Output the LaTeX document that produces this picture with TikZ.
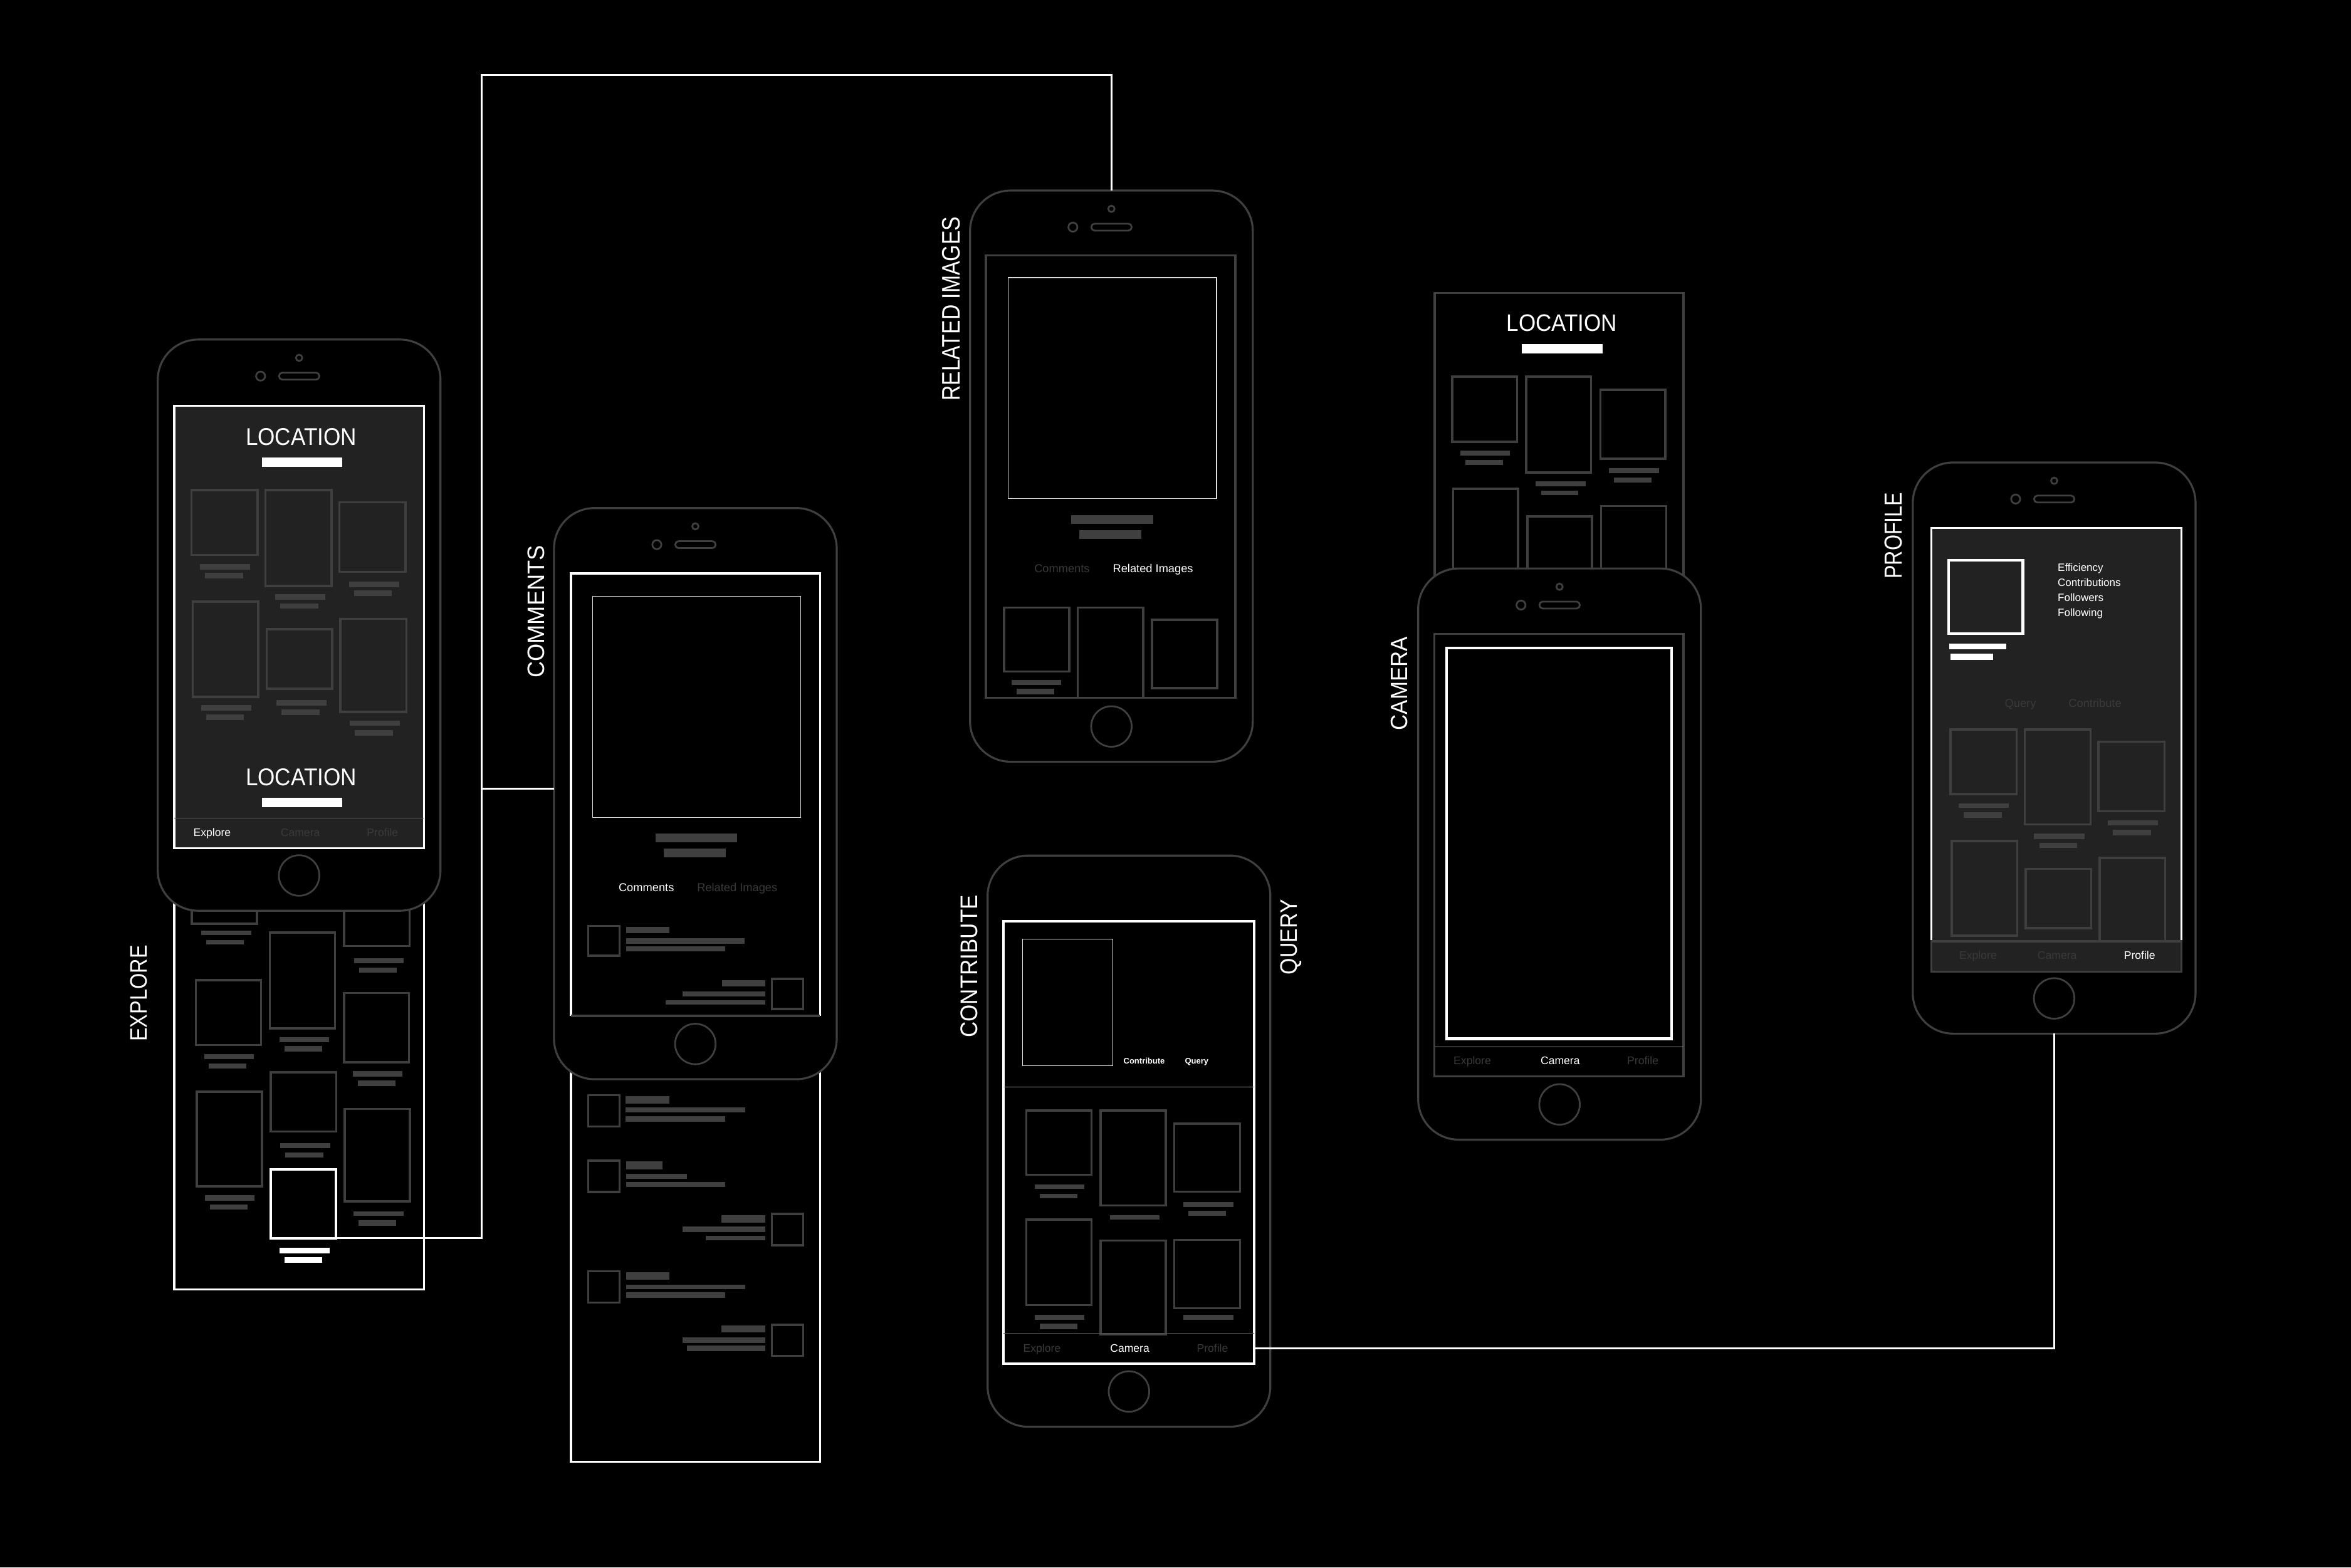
\documentclass[tikz,border=0pt]{standalone}
\usepackage{fontspec}
\setmainfont{Liberation Sans}
\usepackage{graphicx}
\definecolor{pg}{HTML}{3F3F3F}
\definecolor{tg}{HTML}{3A3A3A}
\definecolor{scr}{HTML}{222222}
\definecolor{ln}{HTML}{555555}
\definecolor{thinw}{HTML}{DDDDDD}
\newlength\ov \setlength\ov{0.2392mm}
\newcommand\fs[1]{\fontsize{#1}{#1}\selectfont}
\tikzset{
 phonebody/.style={draw=pg, line width=0.9pt, fill=black, rounded corners=27\ov, minimum width=188.6\ov, minimum height=381\ov, inner sep=0pt, outer sep=0pt},
 pline/.style={draw=pg, line width=0.8pt},
 gbox/.style={draw=pg, line width=1pt},
 gbar/.style={fill=pg},
 wline/.style={draw=white, line width=0.95pt},
 wthin/.style={draw=thinw, line width=0.35pt},
 sepl/.style={draw=ln, line width=0.35pt},
 conn/.style={draw=white, line width=0.8pt},
 txt/.style={inner sep=0pt, anchor=base, text=white},
 off/.style={text=tg},
 lab/.style={inner sep=0pt, rotate=90, text=white},
 wbox/.style={draw=white, line width=1.2pt, inner sep=0pt, outer sep=0pt},
}
\newcommand\gbx[4]{\draw[gbox] (#1,#2) rectangle (#3,#4);}
\newcommand\gbr[4]{\fill[gbar] (#1,#2) rectangle (#3,#4);}
\newcommand\wbr[4]{\fill[white] (#1,#2) rectangle (#3,#4);}
\newcommand\myphone[4]{%
  \node[phonebody] (#1) at ({#2+94.3},{#3+190.5}) {};
  \draw[pline] ({#2+94.3},{#3+357.5}) circle[radius=13.5];
  \ifnum#4=1\relax
   \draw[pline] ({#2+94.3},{#3+12.2}) circle[radius=2.1];
   \draw[pline] ({#2+68.6},{#3+24.4}) circle[radius=3.0];
   \draw[pline, rounded corners=2.2\ov] ({#2+80.9},{#3+22.1}) rectangle ({#2+107.8},{#3+26.7});
  \fi}
\begin{document}
\begin{tikzpicture}[x=0.2392mm, y=-0.2392mm]
\fill[black] (0,0) rectangle (1568.1,1045.6);
\useasboundingbox (0,0) rectangle (1568.1,1045.6);

% ================= EXPLORE =================
\draw[wline] (116.2,560) rectangle (282.7,860);
\gbx{128}{595}{171.5}{616.1}   \gbr{134.4}{621}{167.5}{623.9} \gbr{137.7}{627.2}{162.7}{630.1}
\gbx{179.9}{622.1}{223.5}{685.9} \gbr{186.5}{691.7}{219.5}{695} \gbr{189.8}{697.9}{214.8}{701.3}
\gbx{229.5}{595}{273.1}{631}   \gbr{236.2}{639}{269.3}{642.6} \gbr{239.5}{645.3}{264.6}{648.6}
\gbx{130.6}{653.8}{174.2}{697.1} \gbr{136.2}{703.1}{169.3}{706.4} \gbr{139.4}{709.3}{164.5}{712.7}
\gbx{229.5}{662.3}{272.8}{708.6} \gbr{235.3}{714.5}{268.4}{718} \gbr{238.7}{720.7}{263.8}{724.4}
\gbx{180.7}{715.3}{224.2}{754.8} \gbr{186.9}{762.6}{220.2}{766} \gbr{190.2}{768.8}{215.6}{772.2}
\gbx{131.2}{728.2}{174.7}{791.4} \gbr{136.8}{797.4}{169.9}{800.8} \gbr{140}{803.6}{165.1}{806.8}
\gbx{229.9}{739.8}{273.5}{801.4} \gbr{235.9}{807.9}{269.2}{811.2} \gbr{239.2}{814.1}{264.4}{817.5}
\node[wbox, minimum width=43.5\ov, minimum height=45.8\ov] (sel) at (202.45,803.1) {};
\wbr{186.6}{832.2}{219.9}{836.2} \wbr{189.8}{838.4}{215}{842.2}

\myphone{ephone}{105.2}{226.5}{1}
\draw[wline, fill=scr] (116.2,270.6) rectangle (282.7,565.7);
\draw[sepl] (116.2,545.8) -- (282.7,545.8);
\node[inner sep=0pt, text=white] (eloc1) at (200.9,291.45) {\resizebox{74\ov}{11.3\ov}{LOCATION}};
\wbr{174.7}{305.2}{228.3}{311.3}
\gbx{127.8}{327}{171.8}{370.2} \gbr{133.4}{376.1}{166.9}{379.8} \gbr{136.7}{382.2}{162.1}{385.9}
\gbx{177.1}{327}{221.2}{390.8} \gbr{183.5}{396.2}{217.1}{400.1} \gbr{187}{402.6}{212.2}{406}
\gbx{226.4}{335.1}{270.5}{381.5} \gbr{232.7}{387.9}{266.2}{391.6} \gbr{236}{393.8}{261.3}{397.7}
\gbx{128.6}{401.3}{172.2}{464.9} \gbr{134.1}{470.5}{167.5}{474.2} \gbr{137.4}{476.7}{162.8}{480.4}
\gbx{177.8}{419.7}{221.6}{459.5} \gbr{184.4}{466.8}{217.7}{470.7} \gbr{187.7}{473.3}{213.1}{476.9}
\gbx{227.1}{412.9}{271}{474.9} \gbr{233.3}{480.8}{266.7}{484.3} \gbr{236.6}{487}{262.1}{490.6}
\node[inner sep=0pt, text=white] (eloc2) at (200.9,518.35) {\resizebox{74\ov}{11.3\ov}{LOCATION}};
\wbr{174.7}{532.1}{228.3}{538.5}
\node[txt, font=\fs{5}] (et1) at (141.45,557.9) {Explore};
\node[txt, off, font=\fs{5}] (et2) at (200.3,557.9) {Camera};
\node[txt, off, font=\fs{5}] (et3) at (255.15,557.9) {Profile};

% ================= COMMENTS =================
\draw[wline] (380.8,382.5) rectangle (546.9,975);
\gbx{392.4}{730.6}{413.2}{751.4} \gbr{417.4}{731.2}{446.5}{736} \gbr{417.4}{738.8}{496.9}{742.1} \gbr{417.4}{744.5}{483.7}{748.1}
\gbx{392.4}{774.3}{413.2}{795.1} \gbr{417.6}{774.8}{441.9}{779.9} \gbr{417.6}{782.8}{458.2}{786.4} \gbr{417.6}{788.3}{483.7}{791.8}
\gbx{514.9}{809.8}{535.8}{830.6} \gbr{481.3}{810.5}{510.5}{815.4} \gbr{455.1}{818.1}{510.5}{821.8} \gbr{470.7}{824.2}{510.5}{827.5}
\gbx{392.4}{848.1}{413.2}{868.9} \gbr{417.6}{848.8}{446.5}{853.5} \gbr{417.6}{856.8}{497.1}{860.1} \gbr{417.6}{862}{483.7}{865.6}
\gbx{514.9}{883.7}{535.8}{904.5} \gbr{481.3}{884.2}{510.5}{888.9} \gbr{455.1}{892.3}{510.5}{895.8} \gbr{458.2}{897.5}{510.5}{901.2}

\myphone{cphone}{369.5}{338.9}{1}
\fill[black] (380.8,382.5) rectangle (546.9,677.7);
\draw[wline] (380.8,677.7) -- (380.8,382.5) -- (546.9,382.5) -- (546.9,677.7);
\draw[gbox] (380.8,677.7) -- (546.9,677.7);
\draw[wthin] (395.2,397.8) rectangle (534.1,545.2);
\gbr{437.3}{555.9}{491.7}{561.7} \gbr{442.7}{566}{483.9}{571.7}
\node[txt, font=\fs{5.2}] (ct1) at (431.1,594.6) {Comments};
\node[txt, off, font=\fs{5.2}] (ct2) at (491.75,594.6) {Related Images};
\gbx{392.4}{617.6}{413.2}{637.6} \gbr{417.5}{618.3}{446.3}{622.6} \gbr{417.5}{625.8}{496.8}{629.4} \gbr{417.5}{631.4}{483.5}{634.6}
\gbx{514.9}{652.9}{535.8}{673} \gbr{481.4}{653.7}{510.3}{657.9} \gbr{455.1}{661.2}{510.3}{664.7} \gbr{444.1}{667}{510.3}{670.2}

% ================= RELATED IMAGES =================
\myphone{rphone}{647}{127.1}{1}
\draw[gbox] (657.6,170.4) rectangle (824,465.4);
\draw[wthin] (672.4,185.2) rectangle (811.4,332.6);
\gbr{714.5}{343.6}{769}{349.4} \gbr{720}{353.6}{761.3}{359.4}
\node[txt, off, font=\fs{5.2}] (rt1) at (708.35,381.75) {Comments};
\node[txt, font=\fs{5.2}] (rt2) at (769.05,381.75) {Related Images};
\gbx{669.6}{405.2}{713.2}{447.9} \gbr{674.8}{453.6}{707.7}{457.1} \gbr{678.2}{459.6}{703.1}{463.1}
\gbx{718.8}{405.2}{762.6}{465.4}
\gbx{768.3}{413.5}{811.9}{459.1}

% ================= CONTRIBUTE =================
\myphone{kphone}{658.7}{570.7}{0}
\node[draw=white, line width=0.95pt, inner sep=0pt, outer sep=0pt, minimum width=167.2\ov, minimum height=295.2\ov] (cscreen) at (752.9,762.1) {};
\draw[sepl, draw=thinw!70!black] (669.3,725) -- (836.5,725);
\draw[wthin] (682.1,626.5) rectangle (742.3,711);
\node[txt, font=\bfseries\fs{3.7}] (kt1) at (763.15,709.5) {Contribute};
\node[txt, font=\bfseries\fs{3.7}] (kt2) at (798.2,709.5) {Query};
\gbx{684.5}{740.8}{728.1}{783.7} \gbr{690.1}{789.9}{723.2}{793.2} \gbr{693.4}{796.2}{718.5}{799.5}
\gbx{734}{740.8}{777.6}{804.2} \gbr{740.2}{810.5}{773.5}{813.5}
\gbx{783.2}{749.6}{827.1}{795} \gbr{789.2}{801.7}{822.6}{805} \gbr{792.5}{807.7}{817.9}{811}
\gbx{684.5}{813.5}{728.1}{870.6} \gbr{690.1}{876.9}{723.2}{880.6} \gbr{693.4}{882.9}{718.5}{886.7}
\gbx{734}{827.5}{777.6}{890.2}
\gbx{783.2}{827}{827.1}{872.6} \gbr{789.2}{876.9}{822.6}{880.2}
\draw[sepl] (669.3,889.4) -- (836.5,889.4);
\node[txt, off, font=\fs{5}] (kt3) at (695,902) {Explore};
\node[txt, font=\fs{5}] (kt4) at (753.55,902) {Camera};
\node[txt, off, font=\fs{5}] (kt5) at (808.7,902) {Profile};

% ================= CAMERA =================
\draw[gbox] (957,440) -- (957,195.4) -- (1122.9,195.4) -- (1122.9,440);
\node[inner sep=0pt, text=white] (mloc) at (1041.7,215.55) {\resizebox{73.8\ov}{11.1\ov}{LOCATION}};
\wbr{1015.2}{229.5}{1068.9}{235.8}
\gbx{968.7}{251.2}{1011.9}{294.7} \gbr{974.1}{300.7}{1007.2}{303.8} \gbr{977.3}{306.8}{1002.5}{310.2}
\gbx{1018}{251.2}{1061.2}{315.2} \gbr{1024.3}{321.2}{1057.5}{324.4} \gbr{1027.8}{327.2}{1052.6}{330.4}
\gbx{1067.4}{260}{1110.7}{306.1} \gbr{1073.2}{312.4}{1106.4}{315.6} \gbr{1076.5}{318.4}{1101.5}{321.9}
\gbx{969.2}{326.1}{1012.5}{440}
\gbx{1018.7}{344.5}{1061.9}{440}
\gbx{1067.9}{337.5}{1111.3}{440}
\myphone{mphone}{945.9}{379.2}{1}
\draw[gbox] (956.7,422.9) rectangle (1122.9,718);
\draw[draw=white, line width=1.15pt] (965,432.1) rectangle (1114.8,692.9);
\draw[sepl, draw=thinw!60!black] (956.7,698.2) -- (1122.9,698.2);
\node[txt, off, font=\fs{5}] (mt1) at (982,710.25) {Explore};
\node[txt, font=\fs{5}] (mt2) at (1040.65,710.25) {Camera};
\node[txt, off, font=\fs{5}] (mt3) at (1095.75,710.25) {Profile};

% ================= PROFILE =================
\myphone{pphone}{1275.8}{308.5}{1}
\fill[scr] (1288.2,352.3) rectangle (1454.9,648.1);
\gbx{1301}{486.5}{1345}{529.7} \gbr{1306.5}{535.8}{1340}{539} \gbr{1309.9}{541.9}{1335.2}{545.4}
\gbx{1350.4}{486.5}{1394.3}{550} \gbr{1356.7}{556.1}{1390.5}{559.6} \gbr{1360.3}{562.3}{1385.5}{565.7}
\gbx{1399.7}{494.8}{1443.7}{541.2} \gbr{1405.9}{547.3}{1439.3}{550.7} \gbr{1409.2}{553.4}{1434.6}{557.1}
\gbx{1301.7}{561.1}{1345.5}{624.1}
\gbx{1351.1}{579.7}{1394.8}{619.2}
\gbx{1400.5}{572.3}{1444.2}{628}
\draw[wline] (1288.2,628) -- (1288.2,352.3) -- (1454.9,352.3) -- (1454.9,628);
\draw[gbox, fill=scr] (1288.2,628) rectangle (1454.9,648.1);
\draw[wbox] (1299.7,373.6) rectangle (1349.2,422.5);
\wbr{1300}{429.3}{1338}{433.2} \wbr{1300.8}{436.2}{1329.5}{440.1}
\node[txt, anchor=base west, font=\fs{4.85}] (ps1) at (1372.2,380.85) {Efficiency};
\node[txt, anchor=base west, font=\fs{4.85}] (ps2) at (1372.2,391.15) {Contributions};
\node[txt, anchor=base west, font=\fs{4.85}] (ps3) at (1372.2,401.25) {Followers};
\node[txt, anchor=base west, font=\fs{4.85}] (ps4) at (1372.2,411.25) {Following};
\node[txt, off, font=\fs{5.2}] (pq1) at (1347.6,471.85) {Query};
\node[txt, off, font=\fs{5.2}] (pq2) at (1397.35,471.85) {Contribute};
\node[txt, off, font=\fs{5}] (pt1) at (1319.35,639.95) {Explore};
\node[txt, off, font=\fs{5}] (pt2) at (1372.1,639.95) {Camera};
\node[txt, font=\fs{5}] (pt3) at (1427.1,639.95) {Profile};

% ================= LABELS =================
\node[lab] (lexplore) at (92.6,662.6) {\resizebox{64.1\ov}{11.1\ov}{EXPLORE}};
\node[lab] (lcomments) at (357.5,408) {\resizebox{88.5\ov}{11.1\ov}{COMMENTS}};
\node[lab] (lrelated) at (634.4,206) {\resizebox{122.8\ov}{11.8\ov}{RELATED IMAGES}};
\node[lab] (lcontrib) at (646.6,644.6) {\resizebox{95.2\ov}{11.2\ov}{CONTRIBUTE}};
\node[lab] (lquery) at (861.2,625) {\resizebox{50.2\ov}{11.1\ov}{QUERY}};
\node[lab] (lcamera) at (933.5,455.9) {\resizebox{62.5\ov}{11\ov}{CAMERA}};
\node[lab] (lprofile) at (1262.8,357.3) {\resizebox{57.7\ov}{11.5\ov}{PROFILE}};

% ================= CONNECTORS =================
\coordinate (jA) at (321.3,526.1);
\coordinate (jB) at (321.3,50);
\draw[conn] (sel.south east) -| (jA);
\draw[conn] (jA) -- (jA -| cphone.west);
\draw[conn] (jA) -- (jB) -| (rphone.north);
\draw[conn] (kt4 -| cscreen.east) -| (pphone.south);
\end{tikzpicture}
\end{document}
